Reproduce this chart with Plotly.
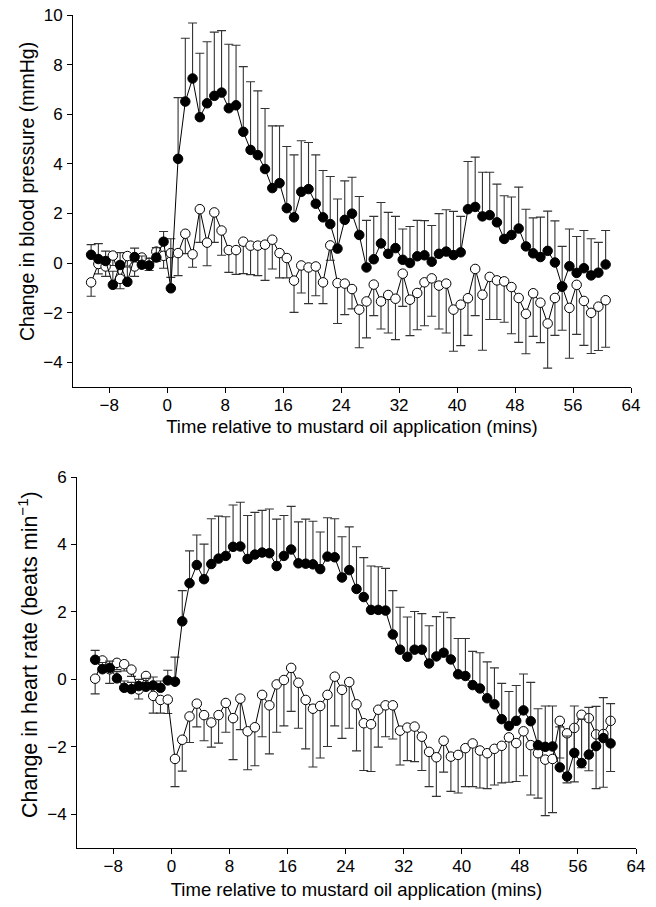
import plotly.graph_objects as go

# time points (minutes relative to mustard oil application)
minutes = [i - 10.5 for i in range(72)]

# ---- Blood pressure (top panel) ----
bp_filled = [0.33, 0.16, 0.08, -0.88, -0.08, -0.76, 0.24, -0.07, -0.10, 0.22, 0.86, -1.02,
             4.20, 6.51, 7.44, 5.88, 6.44, 6.74, 6.87, 6.24, 6.36, 5.29, 4.56, 4.35,
             3.79, 3.02, 3.22, 2.21, 1.84, 2.87, 2.98, 2.39, 1.84, 1.57, 0.58, 1.74,
             1.99, 1.13, -0.18, 0.15, 0.79, 0.37, 0.60, 0.13, 0.00, 0.27, 0.31, 0.05,
             0.37, 0.46, 0.32, 0.43, 2.17, 2.26, 1.88, 1.93, 1.64, 0.97, 1.13, 1.39,
             0.67, 0.39, 0.24, 0.49, 0.02, -0.95, -0.13, -0.40, -0.21, -0.50, -0.39, -0.06]
bp_filled_err = [0.41, 0.62, 0.40, 0.55, 0.50, 0.60, 0.36, 0.35, 0.30, 0.40, 0.41, 2.00,
                 2.47, 2.55, 2.24, 2.58, 2.48, 2.57, 2.50, 2.58, 2.42, 2.63, 2.75, 2.59,
                 2.44, 2.51, 2.31, 2.49, 2.52, 2.06, 1.88, 1.97, 1.89, 1.92, 2.00, 1.57,
                 1.47, 1.55, 1.90, 1.73, 1.65, 1.67, 1.28, 1.24, 1.47, 1.45, 1.40, 1.46,
                 1.62, 1.69, 1.76, 1.45, 1.92, 2.01, 1.78, 1.73, 1.54, 1.74, 1.53, 1.67,
                 1.50, 1.43, 1.61, 1.60, 1.68, 1.62, 1.50, 1.47, 1.52, 1.48, 1.22, 1.37]
bp_open = [-0.78, -0.04, -0.14, 0.30, -0.64, 0.28, -0.14, 0.22, 0.00, 0.46, 0.29, 0.40,
           0.40, 1.18, 0.35, 2.17, 0.82, 2.04, 1.31, 0.52, 0.52, 0.86, 0.70, 0.70,
           0.74, 0.94, 0.40, 0.20, -0.71, -0.10, -0.18, -0.14, -0.78, 0.71, -0.81, -0.83,
           -1.05, -1.88, -1.55, -0.87, -1.55, -1.29, -1.44, -0.43, -1.48, -1.21, -0.78, -0.62,
           -0.91, -0.83, -1.88, -1.68, -1.42, -0.24, -1.28, -0.56, -0.70, -0.74, -0.97, -1.41,
           -2.05, -1.22, -1.60, -2.44, -1.41, -0.95, -1.81, -0.88, -1.53, -2.01, -1.76, -1.50]
bp_open_err = [0.56, 0.40, 0.40, 0.40, 0.40, 0.40, 0.40, 0.35, 0.30, 0.40, 0.50, 0.98,
               0.91, 0.80, 0.52, 1.34, 0.93, 1.21, 1.00, 0.90, 0.98, 1.29, 1.17, 1.21,
               1.44, 1.18, 1.00, 0.80, 1.28, 1.11, 1.46, 1.18, 0.86, 0.60, 1.63, 1.25,
               0.80, 1.54, 1.47, 1.25, 1.11, 1.53, 1.65, 1.32, 1.45, 1.48, 1.75, 1.53,
               1.75, 1.99, 1.68, 1.65, 1.50, 1.88, 2.24, 1.72, 1.58, 1.65, 1.88, 1.79,
               1.61, 1.74, 1.61, 1.80, 1.51, 1.76, 2.03, 2.00, 1.79, 1.64, 1.77, 1.90]

# ---- Heart rate (bottom panel) ----
hr_filled = [0.58, 0.30, 0.34, 0.03, -0.25, -0.29, -0.20, -0.22, -0.18, -0.25, -0.03, -0.07,
             1.72, 2.85, 3.39, 2.97, 3.42, 3.58, 3.66, 3.93, 3.94, 3.57, 3.70, 3.76,
             3.74, 3.36, 3.66, 3.85, 3.44, 3.43, 3.41, 3.27, 3.64, 3.62, 3.02, 3.24,
             2.68, 2.44, 2.06, 2.06, 2.04, 1.33, 0.88, 0.67, 0.88, 0.88, 0.47, 0.68,
             0.79, 0.59, 0.15, 0.10, -0.17, -0.27, -0.56, -0.74, -1.18, -1.38, -1.23, -0.92,
             -1.24, -1.95, -2.00, -1.99, -2.61, -2.88, -2.18, -2.48, -2.23, -1.98, -1.74, -1.90]
hr_filled_err = [0.28, 0.20, 0.20, 0.20, 0.20, 0.20, 0.20, 0.25, 0.25, 0.20, 0.30, 0.73,
                 0.91, 0.96, 0.89, 1.04, 1.34, 1.26, 1.16, 1.24, 1.31, 1.29, 1.25, 1.25,
                 1.31, 1.39, 1.20, 1.28, 1.23, 1.32, 1.28, 1.10, 1.15, 1.14, 1.21, 1.28,
                 1.25, 1.17, 1.30, 1.28, 1.25, 1.30, 1.26, 1.18, 1.13, 1.07, 1.12, 1.18,
                 1.20, 1.24, 1.06, 1.11, 1.00, 1.06, 1.08, 1.08, 1.06, 1.02, 1.05, 1.08,
                 1.15, 1.08, 1.21, 1.20, 1.20, 1.20, 1.39, 1.30, 1.40, 1.18, 1.20, 1.18]
hr_open = [0.02, 0.56, 0.30, 0.49, 0.45, 0.29, -0.30, 0.10, -0.49, -0.61, -0.60, -2.36,
           -1.79, -1.10, -0.72, -1.06, -1.28, -1.06, -0.70, -1.15, -0.57, -1.54, -1.42, -0.46,
           -0.77, -0.15, -0.02, 0.34, -0.10, -0.61, -0.87, -0.79, -0.46, 0.08, -0.31, -0.08,
           -0.74, -1.30, -1.33, -0.90, -0.77, -0.77, -1.52, -1.43, -1.40, -1.70, -2.15, -2.31,
           -1.82, -2.29, -2.24, -2.04, -1.90, -2.11, -2.19, -2.06, -1.97, -1.72, -1.89, -1.54,
           -1.95, -2.19, -2.38, -2.36, -1.23, -1.60, -1.44, -1.05, -1.15, -1.63, -1.62, -1.23]
hr_open_err = [0.45, 0.20, 0.42, 0.20, 0.20, 0.20, 0.28, 0.20, 0.51, 0.39, 0.41, 0.82,
               0.93, 0.77, 0.69, 0.76, 0.73, 0.83, 0.87, 1.23, 0.92, 1.14, 1.14, 1.24,
               1.44, 1.42, 1.36, 1.29, 1.35, 1.45, 1.73, 1.54, 1.53, 1.46, 1.44, 1.37,
               1.38, 1.40, 1.40, 1.11, 0.93, 1.00, 1.02, 0.98, 1.04, 1.00, 1.03, 1.16,
               0.93, 1.03, 1.13, 1.14, 1.28, 1.11, 1.05, 1.07, 1.10, 1.33, 1.14, 1.32,
               1.48, 1.33, 1.66, 1.59, 1.10, 1.47, 1.60, 1.57, 1.56, 1.61, 1.58, 1.50]

x_ticks = [-8, 0, 8, 16, 24, 32, 40, 48, 56, 64]
bp_ticks = [-4, -2, 0, 2, 4, 6, 8, 10]
hr_ticks = [-4, -2, 0, 2, 4, 6]

x_title = "Time relative to mustard oil application (mins)"
bp_title = "Change in blood pressure (mmHg)"
hr_title = "Change in heart rate (beats min<sup>\u22121</sup>)"

zeros = [0] * len(minutes)
FONT = "Liberation Sans, Arial, sans-serif"
ERR_COLOR = "#333333"


def series(y, err, filled, xa, ya):
    return go.Scatter(
        x=minutes, y=y, xaxis=xa, yaxis=ya, mode="lines+markers",
        line=dict(color="black", width=1),
        marker=dict(symbol="circle", size=9.5,
                    color="black" if filled else "white",
                    line=dict(color="black", width=1)),
        error_y=dict(type="data", symmetric=False,
                     array=err if filled else zeros,
                     arrayminus=zeros if filled else err,
                     color=ERR_COLOR, thickness=1.1, width=4.5),
        showlegend=False, hoverinfo="x+y",
    )


fig = go.Figure()
fig.add_trace(series(bp_open, bp_open_err, False, "x", "y"))
fig.add_trace(series(bp_filled, bp_filled_err, True, "x", "y"))
fig.add_trace(series(hr_open, hr_open_err, False, "x2", "y2"))
fig.add_trace(series(hr_filled, hr_filled_err, True, "x2", "y2"))

# body margin is removed by the post script, so figure pixels == page pixels
W, H = 656, 907


def xdom(left, right):
    return [left / W, right / W]


def ydom(top, bottom):
    return [1 - bottom / H, 1 - top / H]


axis_common = dict(showline=True, linecolor="black", linewidth=1, ticks="outside",
                   ticklen=5, tickcolor="black", tickwidth=1, showgrid=False,
                   zeroline=False, automargin=False, ticklabeloverflow="allow",
                   tickfont=dict(family=FONT, size=17, color="black"))

fig.update_layout(
    width=W, height=H,
    margin=dict(l=0, r=0, t=0, b=0),
    paper_bgcolor="white", plot_bgcolor="white",
    font=dict(family=FONT, color="black"),
    xaxis=dict(domain=xdom(73, 631), anchor="y", range=[-13, 64], tickvals=x_ticks,
               ticklabelstandoff=-2,
               title=dict(text=x_title, font=dict(family=FONT, size=18.5), standoff=5),
               **axis_common),
    yaxis=dict(domain=ydom(15, 387), anchor="x", range=[-5, 10], tickvals=bp_ticks,
               ticklabelstandoff=1, **axis_common),
    xaxis2=dict(domain=xdom(77, 636), anchor="y2", range=[-13, 64], tickvals=x_ticks,
                ticklabelstandoff=-2,
                title=dict(text=x_title, font=dict(family=FONT, size=18.5), standoff=7),
                **axis_common),
    yaxis2=dict(domain=ydom(477, 848), anchor="x2", range=[-5, 6], tickvals=hr_ticks,
                ticklabelstandoff=1, **axis_common),
    annotations=[
        dict(text=bp_title, textangle=-90, xref="paper", yref="paper",
             x=27 / W, y=1 - 192 / H, xanchor="center", yanchor="middle",
             showarrow=False, font=dict(family=FONT, size=19.5, color="black")),
        dict(text=hr_title, textangle=-90, xref="paper", yref="paper",
             x=28 / W, y=1 - 655 / H, xanchor="center", yanchor="middle",
             showarrow=False, font=dict(family=FONT, size=21.5, color="black")),
    ],
)

fig.write_html("out.html", config={"displayModeBar": False},
               post_script="document.body.style.margin = '0px';")
